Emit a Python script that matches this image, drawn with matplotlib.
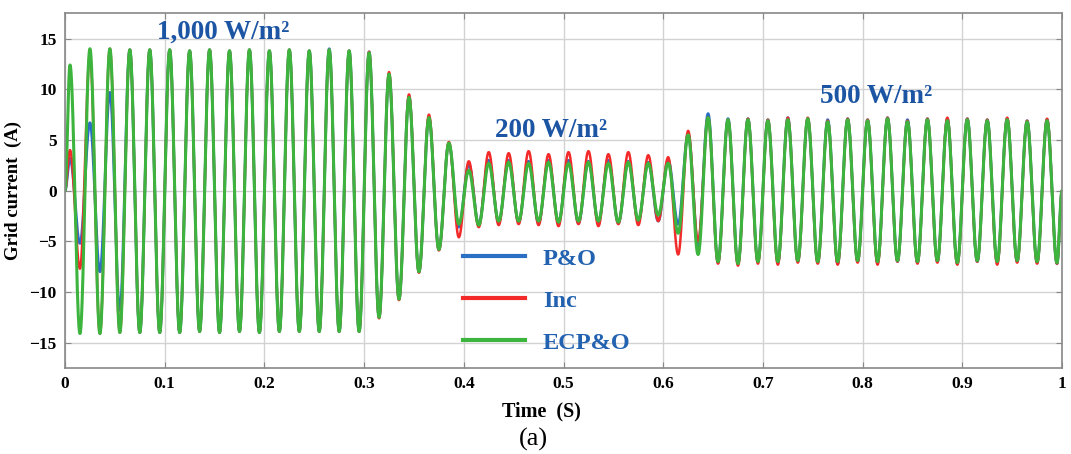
import matplotlib
matplotlib.use("Agg")
import matplotlib.pyplot as plt
import numpy as np

# half-cycle extremes of the grid current (A), one every 10 ms starting at t = 5 ms
ecpo_peaks = [
    12.4, -14.1, 14.0, -14.1, 14.0, -14.0, 13.9, -14.0, 13.9, -14.0,
    13.9, -14.0, 13.8, -13.9, 13.9, -14.0, 13.8, -13.9, 13.9, -14.0,
    13.8, -13.9, 13.9, -13.9, 13.8, -13.9, 13.9, -13.9, 13.8, -13.9,
    13.6, -12.5, 11.5, -10.7, 9.2, -8.0, 7.2, -5.8, 4.7, -3.3,
    2.0, -3.4, 2.7, -3.0, 2.8, -3.0, 2.7, -3.0, 2.8, -3.1,
    2.7, -3.0, 2.8, -3.0, 2.7, -3.1, 2.8, -2.9, 2.7, -2.4,
    2.7, -4.2, 5.5, -6.3, 7.2, -7.0, 7.0, -7.2, 7.0, -7.0,
    6.9, -7.0, 7.0, -6.9, 7.1, -7.0, 6.8, -7.0, 7.0, -6.9,
    6.9, -7.0, 7.1, -6.9, 6.8, -7.0, 7.0, -6.9, 6.9, -7.1,
    7.0, -6.9, 6.9, -7.0, 7.0, -6.9, 6.8, -7.0, 6.9, -7.1,
]
inc_peaks = [
    4.0, -7.7, 13.4, -14.1, 14.0, -14.0, 13.9, -14.0, 13.9, -14.0,
    13.9, -14.0, 13.8, -13.9, 13.9, -14.0, 13.8, -13.9, 13.9, -14.0,
    13.8, -13.9, 13.9, -13.9, 13.8, -13.9, 13.9, -13.9, 13.8, -13.9,
    13.7, -12.6, 11.7, -10.8, 9.5, -8.1, 7.5, -5.9, 4.8, -4.6,
    2.9, -3.6, 3.8, -3.4, 3.7, -3.3, 3.9, -3.4, 3.6, -3.5,
    3.8, -3.3, 3.9, -3.5, 3.6, -3.3, 3.8, -3.4, 3.5, -3.0,
    3.3, -6.3, 5.9, -5.0, 7.2, -7.2, 7.0, -7.4, 7.1, -7.2,
    7.0, -7.3, 7.2, -7.1, 7.2, -7.2, 6.9, -7.3, 7.1, -7.1,
    7.0, -7.3, 7.2, -7.0, 6.9, -7.2, 7.1, -7.1, 7.2, -7.3,
    7.1, -7.0, 7.0, -7.3, 7.2, -7.1, 6.9, -7.2, 7.1, -7.2,
]
po_peaks = [
    3.2, -5.2, 6.7, -8.0, 9.7, -11.8, 13.9, -14.0, 13.9, -14.0,
    13.9, -14.0, 13.8, -13.9, 13.9, -14.0, 13.8, -13.9, 13.9, -14.0,
    13.8, -13.9, 13.9, -13.9, 13.8, -13.9, 14.0, -13.9, 13.8, -13.9,
    13.7, -12.5, 11.5, -10.7, 9.3, -8.0, 7.2, -5.8, 4.7, -3.6,
    2.6, -3.3, 3.0, -3.1, 3.0, -3.1, 2.9, -3.2, 3.0, -3.1,
    3.0, -3.2, 2.9, -3.1, 3.0, -3.2, 2.9, -3.0, 2.8, -3.0,
    3.0, -3.3, 5.6, -5.5, 7.6, -7.1, 7.1, -7.2, 7.1, -7.0,
    7.0, -7.1, 7.2, -7.0, 7.1, -7.1, 7.0, -7.2, 7.1, -7.0,
    7.0, -7.1, 7.2, -7.0, 7.0, -7.1, 7.1, -7.0, 7.1, -7.2,
    7.1, -7.0, 7.0, -7.1, 7.1, -7.0, 6.9, -7.1, 7.0, -7.2,
]
series_names = ["P&O", "Inc", "ECP&O"]
series_colors = ["#2b6fc4", "#f22a2a", "#3db43d"]
irradiance_labels = ["1,000 W/m²", "200 W/m²", "500 W/m²"]
irradiance_pos = [(0.159, 15.6), (0.488, 5.9), (0.814, 9.3)]
xtick_vals = [0, 0.1, 0.2, 0.3, 0.4, 0.5, 0.6, 0.7, 0.8, 0.9, 1.0]
xtick_labels = ["0", "0.1", "0.2", "0.3", "0.4", "0.5", "0.6", "0.7", "0.8", "0.9", "1"]
ytick_vals = [-15, -10, -5, 0, 5, 10, 15]

half_period = 0.01
t = np.linspace(0, 1, 20001)


def waveform(peaks):
    # smooth half-cosine segments between the read extremes
    knot_t = np.concatenate([[0.0], 0.005 + half_period * np.arange(len(peaks)), [1.0]])
    knot_v = np.concatenate([[0.0], peaks, [0.0]])
    idx = np.clip(np.searchsorted(knot_t, t, side="right") - 1, 0, len(knot_t) - 2)
    s = (t - knot_t[idx]) / (knot_t[idx + 1] - knot_t[idx])
    return knot_v[idx] + (knot_v[idx + 1] - knot_v[idx]) * (1 - np.cos(np.pi * s)) / 2


plt.rcParams["font.family"] = ["Liberation Serif", "DejaVu Serif"]
plt.rcParams["font.weight"] = "bold"

fig = plt.figure(figsize=(10.71, 4.54), dpi=100)
ax = fig.add_axes([0.0607, 0.1894, 0.9309, 0.7813])

widths = [2.0, 1.8, 2.2]
for peaks, name, col, lw in zip([po_peaks, inc_peaks, ecpo_peaks], series_names, series_colors, widths):
    ax.plot(t, waveform(np.array(peaks)), color=col, lw=lw, label=name)

ax.set_xlim(0, 1)
ax.set_ylim(-17.5, 17.5)
ax.set_xticks(xtick_vals)
ax.set_xticklabels(xtick_labels)
ax.set_yticks(ytick_vals)
ax.grid(True, color="#d2d2d2", lw=1.0)
ax.set_axisbelow(True)
ax.tick_params(direction="in", top=True, right=True, length=4, color="#888888",
               labelsize=12.5, pad=6)
for sp in ax.spines.values():
    sp.set_color("#888888")
    sp.set_linewidth(1.2)

ax.set_ylabel("Grid current  (A)", fontsize=13.5, fontweight="bold", labelpad=5)
ax.set_xlabel("Time  (S)", fontsize=14.5, fontweight="bold")
ax.xaxis.set_label_coords(0.478, -0.095)

for lab, (x, y) in zip(irradiance_labels, irradiance_pos):
    ax.text(x, y, lab, color="#1c55a3", fontsize=19.5, fontweight="bold",
            ha="center", va="center")

leg = ax.legend(loc="upper left", bbox_to_anchor=(0.399, 0.339), frameon=False,
                fontsize=17.5, handlelength=2.55, handletextpad=0.75,
                labelspacing=0.82, borderpad=0, borderaxespad=0)
for line in leg.get_lines():
    line.set_linewidth(3)
for txt in leg.get_texts():
    txt.set_color("#2362b0")

fig.text(0.498, 0.032, "(a)", fontsize=19, fontweight="normal", ha="center", va="center")

fig.savefig("out.png", dpi=100)
